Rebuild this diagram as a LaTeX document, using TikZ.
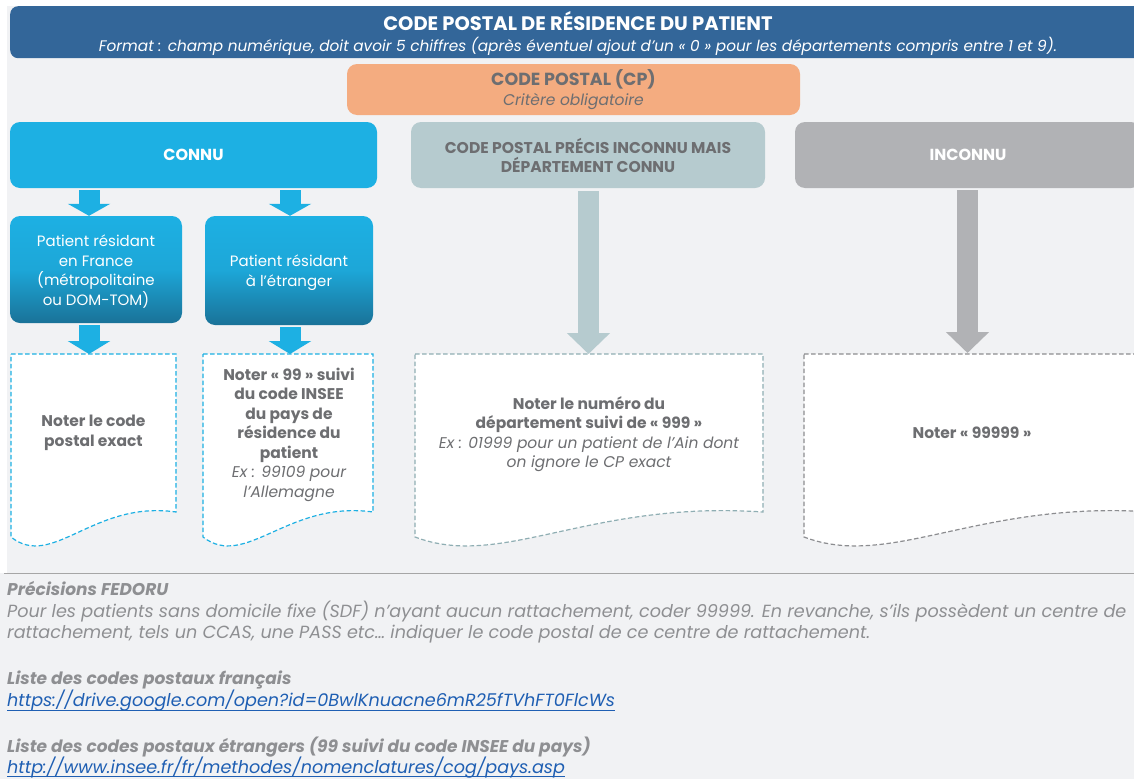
\documentclass[tikz,border=0pt]{standalone}
\usepackage{fontspec}
\setmainfont{Poppins}
\usetikzlibrary{arrows.meta,calc}
\definecolor{bg}{HTML}{F1F2F4}
\definecolor{titleblue}{HTML}{336699}
\definecolor{orangebox}{HTML}{F4AC80}
\definecolor{cyanbox}{HTML}{1DB0E3}
\definecolor{cyandark}{HTML}{1A7298}
\definecolor{grayblue}{HTML}{B6CBCF}
\definecolor{grayblueline}{HTML}{8FAEB3}
\definecolor{graybox}{HTML}{B1B2B5}
\definecolor{grayline}{HTML}{8C8D90}
\definecolor{txtgray}{HTML}{6D6E71}
\definecolor{footgray}{HTML}{8E8F92}
\definecolor{linkblue}{HTML}{1F5FB3}
\begin{document}
\begin{tikzpicture}[x=1pt,y=-1pt,
  box/.style={rectangle, rounded corners=10pt, inner sep=0pt, align=center},
  patbox/.style={box, top color=cyanbox, bottom color=cyandark, middle color=cyanbox!85!cyandark, text=white, font=\fontsize{15}{19.7}\selectfont},
  blockarrow/.style={line width=21pt, -{Triangle[width=42pt,length=#1]}},
  blockarrow/.default=12pt,
  doctext/.style={text=txtgray, align=center, font=\fontsize{15.5}{19.5}\selectfont\bfseries},
  foot/.style={anchor=base west, inner sep=0pt, text=footgray, font=\fontsize{17.6}{20}\selectfont\itshape},
  footb/.style={foot, font=\fontsize{17}{20}\selectfont\bfseries\itshape},
  link/.style={anchor=base west, inner sep=0pt, text=linkblue, font=\fontsize{17.6}{20}\selectfont\itshape}
]
\useasboundingbox (0,0) rectangle (1134,779);
\begin{scope}
\clip (0,0) rectangle (1134,779);
\fill[white] (0,0) rectangle (1134,779);
\fill[bg] (7,6) rectangle (1134,573);
\fill[bg] (0,573) rectangle (1134,779);
\draw[gray!70, line width=1pt] (4,573.5) -- (1134,573.5);

% title bar
\node[box, rounded corners=8pt, fill=titleblue, minimum width=1150pt, minimum height=52pt, anchor=north west] (title) at (10,6) {};
\node[text=white, font=\fontsize{19.5}{22}\selectfont\bfseries] (titletxt) at (578,21) {CODE POSTAL DE RÉSIDENCE DU PATIENT};
\node[text=white, font=\fontsize{15.3}{18}\selectfont\itshape] (subtxt) at (578,46.5) {Format : champ numérique, doit avoir 5 chiffres (après éventuel ajout d'un « 0 » pour les départements compris entre 1 et 9).};

% CP box
\node[box, fill=orangebox, minimum width=453pt, minimum height=51pt, text=txtgray] (cp) at (573.5,89.5)
  {{\fontsize{17.5}{21}\selectfont\bfseries CODE POSTAL (CP)}\\[2.5pt]{\fontsize{15.5}{18}\selectfont\itshape Critère obligatoire}};

% three category boxes
\node[box, fill=cyanbox, minimum width=367pt, minimum height=66pt, text=white, font=\fontsize{16}{19}\selectfont\bfseries] (connu) at (193.5,155) {CONNU};
\node[box, fill=grayblue, minimum width=354pt, minimum height=66pt, text=txtgray, font=\fontsize{15.6}{19}\selectfont\bfseries] (mid) at (588,155) {CODE POSTAL PRÉCIS INCONNU MAIS\\DÉPARTEMENT CONNU};
\node[box, fill=graybox, minimum width=346pt, minimum height=66pt, text=white, font=\fontsize{16}{19}\selectfont\bfseries] (inconnu) at (968,155) {INCONNU};

% patient boxes
\node[patbox, minimum width=172pt, minimum height=107pt] (fr) at (96,269.5) {\rule{0pt}{16pt}Patient résidant\\en France\\(métropolitaine\\ou DOM-TOM)};
\node[patbox, minimum width=168pt, minimum height=109pt] (etr) at (289,270.5) {\rule{0pt}{16.5pt}Patient résidant\\à l'étranger};

% document shapes
\newcommand\docshape[3]{%
  \draw[#3, line width=1.2pt, dash pattern=on 4.5pt off 2.5pt, fill=white]
   (#1,354) -- (#2,354) -- (#2,512)
   .. controls ({#1+0.5*(#2-#1)},500) and ({#1+0.25*(#2-#1)},570) .. (#1,537) -- cycle;}
\docshape{11}{176}{cyanbox}
\docshape{203}{373}{cyanbox}
\docshape{415}{763}{grayblueline}
\docshape{804}{1152}{grayline}

\node[doctext] (d1) at (93.5,433) {Noter le code\\postal exact};
\node[doctext] (d2) at (289,434.5) {Noter « 99 » suivi\\du code INSEE\\du pays de\\résidence du\\patient\\{\mdseries\itshape Ex : 99109 pour}\\{\mdseries\itshape l'Allemagne}};
\node[doctext] (d3) at (589,434) {Noter le numéro du\\département suivi de « 999 »\\{\mdseries\itshape Ex : 01999 pour un patient de l'Ain dont}\\{\mdseries\itshape on ignore le CP exact}};
\node[doctext] (d4) at (972,433) {Noter « 99999 »};

\coordinate (d1top) at (89,354);
\coordinate (d2top) at (290,354);
\coordinate (d3top) at (588.5,354);
\coordinate (d4top) at (967.5,353);

% arrows
\draw[blockarrow, cyanbox, shorten <=2pt] (connu.south -| d1top) -- (fr.north -| d1top);
\draw[blockarrow, cyanbox, shorten <=2pt] (connu.south -| d2top) -- (etr.north -| d2top);
\draw[blockarrow=13pt, cyanbox, shorten <=2pt] (fr.south -| d1top) -- (d1top);
\draw[blockarrow=13pt, cyanbox, shorten <=2pt] (etr.south -| d2top) -- (d2top);
\draw[blockarrow=21pt, grayblue, shorten <=3pt] (mid.south -| d3top) -- (d3top);
\draw[blockarrow=21pt, graybox, shorten <=2pt] (inconnu.south -| d4top) -- (d4top);

% footer
\node[footb] (f1) at (7,595) {Précisions FEDORU};
\node[foot] (f2) at (7,617) {Pour les patients sans domicile fixe (SDF) n'ayant aucun rattachement, coder 99999. En revanche, s'ils possèdent un centre de};
\node[foot] (f3) at (7,638.5) {rattachement, tels un CCAS, une PASS etc… indiquer le code postal de ce centre de rattachement.};
\node[footb] (f4) at (7,684) {Liste des codes postaux français};
\node[link] (f5) at (7,706.5) {https://drive.google.com/open?id=0BwlKnuacne6mR25fTVhFT0FlcWs};
\draw[linkblue, line width=0.9pt] ($(f5.base west)+(0,3.5)$) -- ($(f5.base east)+(0,3.5)$);
\node[footb] (f6) at (7,752) {Liste des codes postaux étrangers (99 suivi du code INSEE du pays)};
\node[link] (f7) at (7,773) {http://www.insee.fr/fr/methodes/nomenclatures/cog/pays.asp};
\draw[linkblue, line width=0.9pt] ($(f7.base west)+(0,3)$) -- ($(f7.base east)+(0,3)$);
\end{scope}
\end{tikzpicture}
\end{document}
